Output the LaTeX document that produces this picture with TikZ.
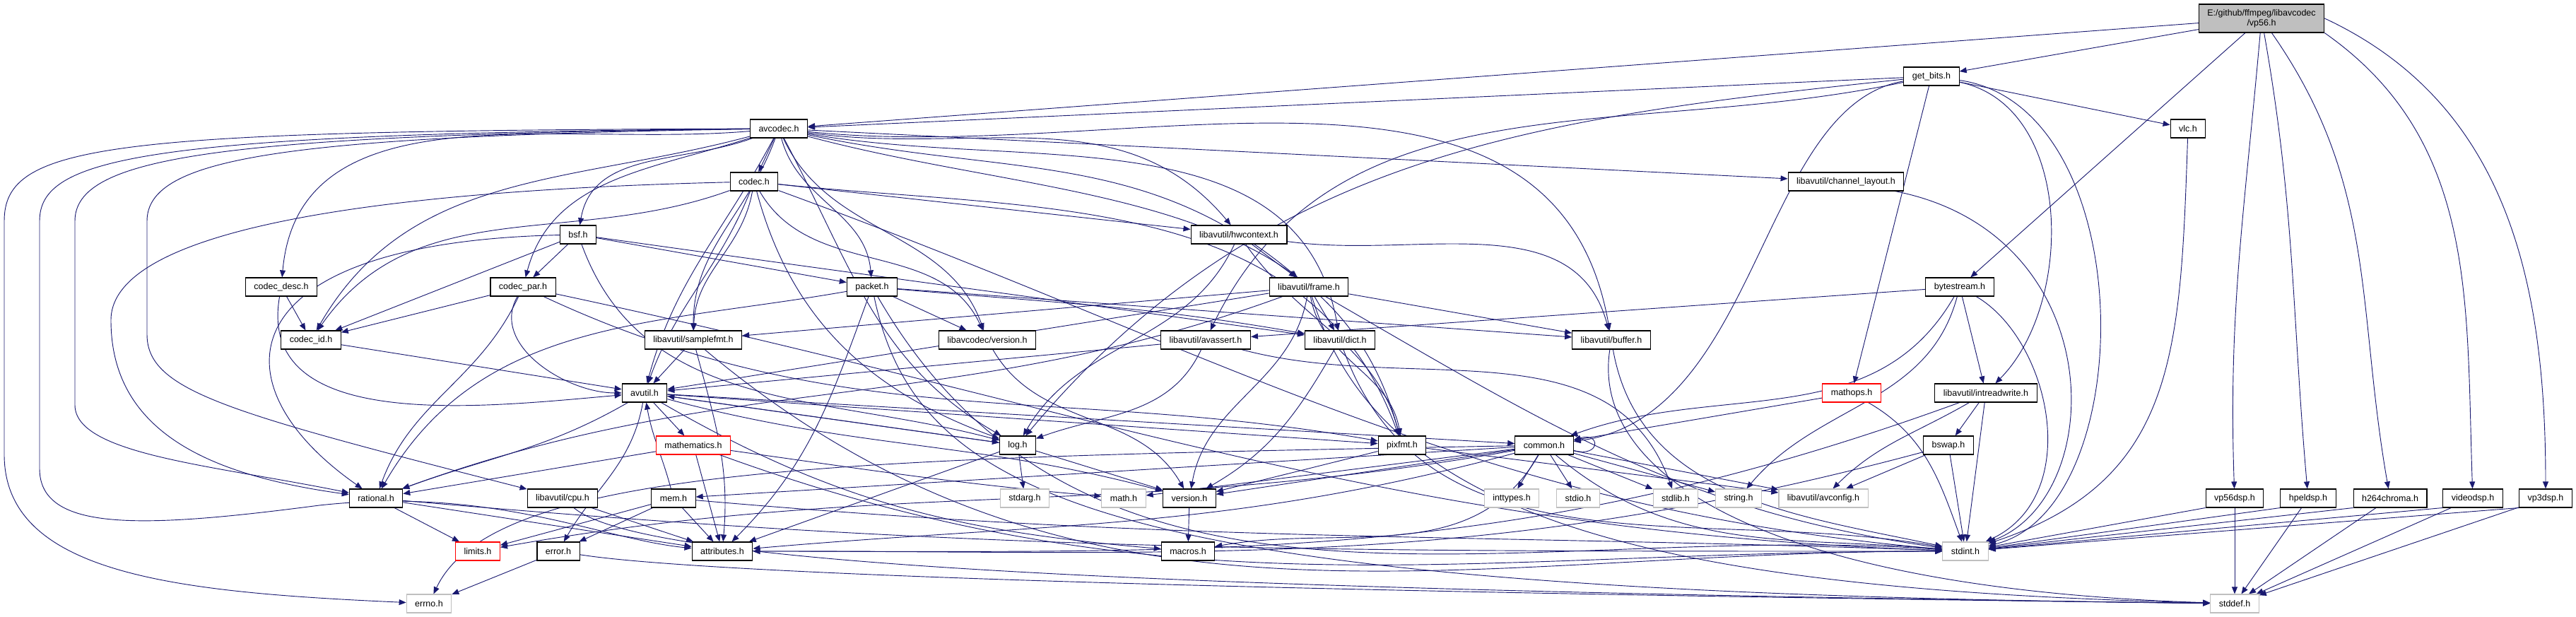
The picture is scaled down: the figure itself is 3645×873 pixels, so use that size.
\documentclass[tikz,border=0pt]{standalone}
\usepackage{fontspec}
\setmainfont{Liberation Sans}
\usetikzlibrary{arrows.meta,backgrounds}
\definecolor{depblue}{HTML}{191970}
\definecolor{nodegray}{HTML}{BFBFBF}

\begin{document}
\begin{tikzpicture}[x=0.25pt,y=0.25pt,
    hdr/.style={draw=black,line width=0.28pt,fill=white,minimum height=6.5pt,inner xsep=3pt,inner ysep=0.5pt,font=\fontsize{3.125}{3.5}\selectfont},
    sys/.style={hdr,draw=nodegray},
    trunc/.style={hdr,draw=red},
    dep/.style={draw=depblue,line width=0.23pt,-{Triangle[length=2.5pt,width=2pt]}}]
    \useasboundingbox (0,0) rectangle (3645,873);

    % rows from top to bottom
    \node[hdr,fill=nodegray,align=center,minimum height=10pt] (vp56) at (3200,847) {E:/github/ffmpeg/libavcodec\\/vp56.h};
    \node[hdr] (getbits) at (2733,765) {get\_bits.h};
    \node[hdr] (avcodec) at (1102,691) {avcodec.h};
    \node[hdr] (vlc) at (3096,691) {vlc.h};
    \node[hdr] (codec) at (1067,616) {codec.h};
    \node[hdr] (chlayout) at (2612,616) {libavutil/channel\_layout.h};
    \node[hdr] (bsf) at (818,541) {bsf.h};
    \node[hdr] (hwctx) at (1753,541) {libavutil/hwcontext.h};
    \node[hdr] (codecdesc) at (398,467) {codec\_desc.h};
    \node[hdr] (codecpar) at (740,467) {codec\_par.h};
    \node[hdr] (packet) at (1234,467) {packet.h};
    \node[hdr] (frame) at (1852,467) {libavutil/frame.h};
    \node[hdr] (bytestream) at (2773,467) {bytestream.h};
    \node[hdr] (codecid) at (440,392) {codec\_id.h};
    \node[hdr] (samplefmt) at (981,392) {libavutil/samplefmt.h};
    \node[hdr] (lavcversion) at (1397,392) {libavcodec/version.h};
    \node[hdr] (avassert) at (1706,392) {libavutil/avassert.h};
    \node[hdr] (dict) at (1896,392) {libavutil/dict.h};
    \node[hdr] (buffer) at (2280,392) {libavutil/buffer.h};
    \node[hdr] (avutil) at (912,317) {avutil.h};
    \node[trunc] (mathops) at (2620,317) {mathops.h};
    \node[hdr] (intrw) at (2810,317) {libavutil/intreadwrite.h};
    \node[trunc] (mathematics) at (981,243) {mathematics.h};
    \node[hdr] (log) at (1440,243) {log.h};
    \node[hdr] (pixfmt) at (1984,243) {pixfmt.h};
    \node[hdr] (common) at (2185,243) {common.h};
    \node[hdr] (bswap) at (2757,243) {bswap.h};
    \node[hdr] (rational) at (532,168) {rational.h};
    \node[hdr] (cpu) at (796,168) {libavutil/cpu.h};
    \node[hdr] (mem) at (953,168) {mem.h};
    \node[sys] (stdarg) at (1450,168) {stdarg.h};
    \node[sys] (math) at (1590,168) {math.h};
    \node[hdr] (version) at (1683,168) {version.h};
    \node[sys] (inttypes) at (2139,168) {inttypes.h};
    \node[sys] (stdio) at (2233,168) {stdio.h};
    \node[sys] (stdlib) at (2371,168) {stdlib.h};
    \node[sys] (string) at (2460,168) {string.h};
    \node[sys] (avconfig) at (2580,168) {libavutil/avconfig.h};
    \node[hdr] (vp56dsp) at (3162,168) {vp56dsp.h};
    \node[hdr] (hpeldsp) at (3266,168) {hpeldsp.h};
    \node[hdr] (h264chroma) at (3382,168) {h264chroma.h};
    \node[hdr] (videodsp) at (3499,168) {videodsp.h};
    \node[hdr] (vp3dsp) at (3602,168) {vp3dsp.h};
    \node[trunc] (limits) at (676,93) {limits.h};
    \node[hdr] (error) at (790,93) {error.h};
    \node[hdr] (attributes) at (1022,93) {attributes.h};
    \node[hdr] (macros) at (1681,93) {macros.h};
    \node[sys] (stdint) at (2781,93) {stdint.h};
    \node[sys] (errno) at (607,19) {errno.h};
    \node[sys] (stddef) at (3162,19) {stddef.h};

    \begin{scope}[on background layer]
    % vp56.h
    \draw[dep] (vp56) -- (avcodec);
    \draw[dep] (vp56) -- (getbits);
    \draw[dep] (vp56) -- (bytestream);
    \draw[dep] (vp56) to[out=-95,in=92] (vp56dsp);
    \draw[dep] (vp56) to[out=-80,in=95] (hpeldsp);
    \draw[dep] (vp56) to[out=-55,in=100] (h264chroma);
    \draw[dep] (vp56.south east) to[out=-35,in=92] (videodsp);
    \draw[dep] (vp56.east) to[out=-25,in=90] (vp3dsp);
    % get_bits.h
    \draw[dep] (getbits) -- (avcodec);
    \draw[dep] (getbits) -- (vlc);
    \draw[dep] (getbits) -- (mathops);
    \draw[dep] (getbits) to[out=192,in=64] (avassert);
    \draw[dep] (getbits) to[out=186,in=50] (log);
    \draw[dep] (getbits) .. controls (2490,723) and (2490,283) .. (common);
    \draw[dep] (getbits) .. controls (2935,723) and (2935,443) .. (intrw);
    \draw[dep] (getbits) .. controls (3030,723) and (3030,153) .. (stdint);
    % avcodec.h
    \draw[dep] (avcodec) -- (codec);
    \draw[dep] (avcodec) -- (chlayout);
    \draw[dep] (avcodec) to[out=-8,in=130] (hwctx);
    \draw[dep] (avcodec) to[out=-12,in=140] (frame);
    \draw[dep] (avcodec) to[out=-10,in=100] (dict);
    \draw[dep] (avcodec) to[out=-6,in=100] (buffer);
    \draw[dep] (avcodec) to[out=-15,in=105] (pixfmt);
    \draw[dep] (avcodec) to[out=-62,in=150] (log);
    \draw[dep] (avcodec) to[out=-65,in=110] (lavcversion);
    \draw[dep] (avcodec) to[out=-75,in=95] (packet);
    \draw[dep] (avcodec) to[out=-110,in=90] (samplefmt);
    \draw[dep] (avcodec) to[out=-118,in=75] (avutil);
    \draw[dep] (avcodec) to[out=200,in=80] (bsf);
    \draw[dep] (avcodec) to[out=198,in=75] (codecpar);
    \draw[dep] (avcodec) to[out=195,in=60] (codecid);
    \draw[dep] (avcodec) to[out=185,in=85] (codecdesc);
    \draw[dep] (avcodec) .. controls (150,688) and (6,670) .. (6,560) -- (6,230) .. controls (6,60) and (250,35) .. (errno);
    \draw[dep] (avcodec) .. controls (200,684) and (56,650) .. (56,560) -- (56,210) .. controls (56,120) and (200,125) .. (452,158) .. controls (700,185) and (850,110) .. (attributes);
    \draw[dep] (avcodec) .. controls (300,682) and (106,650) .. (106,560) -- (106,300) .. controls (106,230) and (300,215) .. (rational);
    \draw[dep] (avcodec) .. controls (400,680) and (208,650) .. (208,560) -- (208,400) .. controls (208,320) and (320,290) .. (cpu);
    % vlc.h, channel_layout.h
    \draw[dep] (vlc) .. controls (3085,373) and (3080,193) .. (stdint);
    \draw[dep] (chlayout) .. controls (2985,543) and (2985,173) .. (stdint);
    % codec.h
    \draw[dep] (codec) to[out=-20,in=175] (stdint);
    \draw[dep] (codec) to[out=-112,in=70] (avutil);
    \draw[dep] (codec) -- (hwctx);
    \draw[dep] (codec) to[out=-75,in=160] (log);
    \draw[dep] (codec) to[out=-6,in=110] (pixfmt);
    \draw[dep] (codec) .. controls (600,605) and (157,560) .. (157,420) .. controls (157,260) and (300,200) .. (rational);
    \draw[dep] (codec) to[out=-100,in=88] (samplefmt);
    \draw[dep] (codec) to[out=200,in=55] (codecid);
    \draw[dep] (codec) to[out=-60,in=115] (lavcversion);
    % bsf.h
    \draw[dep] (bsf) to[out=-8,in=172] (dict);
    \draw[dep] (bsf) to[out=-70,in=165] (log);
    \draw[dep] (bsf) .. controls (320,530) and (300,330) .. (rational);
    \draw[dep] (bsf) -- (codecid);
    \draw[dep] (bsf) -- (codecpar);
    \draw[dep] (bsf) -- (packet);
    % hwcontext.h
    \draw[dep] (hwctx) to[out=-8,in=105] (buffer);
    \draw[dep] (hwctx) -- (frame);
    \draw[dep] (hwctx) to[out=-115,in=60] (log);
    \draw[dep] (hwctx) to[out=-55,in=105] (pixfmt);
    % codec_desc.h, codec_par.h
    \draw[dep] (codecdesc) to[out=-100,in=185] (avutil);
    \draw[dep] (codecdesc) -- (codecid);
    \draw[dep] (codecpar) to[out=-12,in=178] (stdint);
    \draw[dep] (codecpar) to[out=-120,in=180] (avutil);
    \draw[dep] (codecpar) to[out=-115,in=70] (rational);
    \draw[dep] (codecpar) to[out=-25,in=170] (pixfmt);
    \draw[dep] (codecpar) -- (codecid);
    % packet.h
    \draw[dep] (packet) .. controls (1300,150) and (1600,35) .. (stddef);
    \draw[dep] (packet) to[out=-60,in=176] (stdint);
    \draw[dep] (packet) to[out=-110,in=45] (attributes);
    \draw[dep] (packet) -- (buffer);
    \draw[dep] (packet) to[out=-5,in=170] (dict);
    \draw[dep] (packet) to[out=190,in=60] (rational);
    \draw[dep] (packet) -- (lavcversion);
    % frame.h
    \draw[dep] (frame) .. controls (1950,150) and (2300,40) .. (stddef);
    \draw[dep] (frame) to[out=-30,in=172] (stdint);
    \draw[dep] (frame) -- (avutil);
    \draw[dep] (frame) -- (buffer);
    \draw[dep] (frame) -- (dict);
    \draw[dep] (frame) to[out=200,in=20] (rational);
    \draw[dep] (frame) -- (samplefmt);
    \draw[dep] (frame) to[out=-80,in=100] (pixfmt);
    \draw[dep] (frame) to[out=-100,in=80] (version);
    % bytestream.h
    \draw[dep] (bytestream) .. controls (2900,393) and (2950,173) .. (stdint);
    \draw[dep] (bytestream) to[out=-105,in=50] (string);
    \draw[dep] (bytestream) -- (avassert);
    \draw[dep] (bytestream) to[out=-120,in=20] (common);
    \draw[dep] (bytestream) -- (intrw);
    % row of codec_id.h
    \draw[dep] (codecid) -- (avutil);
    \draw[dep] (samplefmt) to[out=-40,in=180] (stdint);
    \draw[dep] (samplefmt) -- (avutil);
    \draw[dep] (samplefmt) to[out=-75,in=85] (attributes);
    \draw[dep] (lavcversion) to[out=-60,in=120] (version);
    \draw[dep] (avassert) to[out=-15,in=110] (stdlib);
    \draw[dep] (avassert) -- (avutil);
    \draw[dep] (avassert) to[out=-115,in=20] (log);
    \draw[dep] (dict) to[out=-70,in=170] (stdint);
    \draw[dep] (dict) to[out=-120,in=30] (version);
    \draw[dep] (buffer) .. controls (2250,200) and (2500,40) .. (stddef);
    \draw[dep] (buffer) to[out=-80,in=168] (stdint);
    % avutil.h
    \draw[dep] (avutil) -- (common);
    \draw[dep] (avutil) to[out=-100,in=60] (error);
    \draw[dep] (avutil) to[out=-150,in=20] (rational);
    \draw[dep] (avutil) to[out=-15,in=165] (version);
    \draw[dep] (avutil) to[out=-30,in=175] (macros);
    \draw[dep] (avutil) -- (mathematics);
    \draw[dep] (avutil) -- (log);
    \draw[dep] (avutil) -- (pixfmt);
    % mathops.h, intreadwrite.h
    \draw[dep] (mathops) to[out=-30,in=110] (stdint);
    \draw[dep] (mathops) -- (common);
    \draw[dep] (intrw) -- (stdint);
    \draw[dep] (intrw) to[out=-150,in=45] (avconfig);
    \draw[dep] (intrw) to[out=-160,in=0] (attributes);
    \draw[dep] (intrw) -- (bswap);
    % mathematics.h, log.h, pixfmt.h
    \draw[dep] (mathematics) to[out=-20,in=180] (stdint);
    \draw[dep] (mathematics) to[out=-8,in=175] (math);
    \draw[dep] (mathematics) -- (attributes);
    \draw[dep] (mathematics) -- (rational);
    \draw[dep] (log) -- (stdarg);
    \draw[dep] (log) -- (avutil);
    \draw[dep] (log) -- (attributes);
    \draw[dep] (log) -- (version);
    \draw[dep] (pixfmt) -- (avconfig);
    \draw[dep] (pixfmt) -- (version);
    % common.h
    \draw[dep] (common) .. controls (1200,225) and (700,215) .. (errno);
    \draw[dep] (common) -- (inttypes);
    \draw[dep] (common) to[out=190,in=10] (limits);
    \draw[dep] (common) -- (math);
    \draw[dep] (common) to[out=-40,in=175] (stdint);
    \draw[dep] (common) -- (stdio);
    \draw[dep] (common) -- (stdlib);
    \draw[dep] (common) -- (string);
    \draw[dep] (common) to[out=195,in=5] (attributes);
    \draw[dep] (common) to[out=-120,in=10] (macros);
    \draw[dep] (common) -- (version);
    \draw[dep] (common) -- (avconfig);
    \draw[dep] (common) -- (mem);
    \draw[dep] (common.-10) .. controls (2265,225) and (2265,262) .. (common.10);
    % bswap.h
    \draw[dep] (bswap) -- (stdint);
    \draw[dep] (bswap) -- (avconfig);
    \draw[dep] (bswap) to[out=-165,in=0] (attributes);
    % lower rows
    \draw[dep] (rational) to[out=-5,in=180] (stdint);
    \draw[dep] (rational) -- (limits);
    \draw[dep] (rational) -- (attributes);
    \draw[dep] (cpu) .. controls (900,80) and (1500,40) .. (stddef);
    \draw[dep] (cpu) -- (attributes);
    \draw[dep] (mem) -- (limits);
    \draw[dep] (mem) to[out=-5,in=178] (stdint);
    \draw[dep] (mem) -- (attributes);
    \draw[dep] (mem) -- (error);
    \draw[dep] (mem) to[out=105,in=-80] (avutil);
    \draw[dep] (version) -- (macros);
    \draw[dep] (error) -- (errno);
    \draw[dep] (error) .. controls (1000,60) and (1800,35) .. (stddef);
    \foreach \d in {vp56dsp,hpeldsp,h264chroma,videodsp,vp3dsp} {
        \draw[dep] (\d) -- (stddef);
        \draw[dep] (\d.south west) -- (stdint);
    }
    \end{scope}
\end{tikzpicture}
\end{document}
